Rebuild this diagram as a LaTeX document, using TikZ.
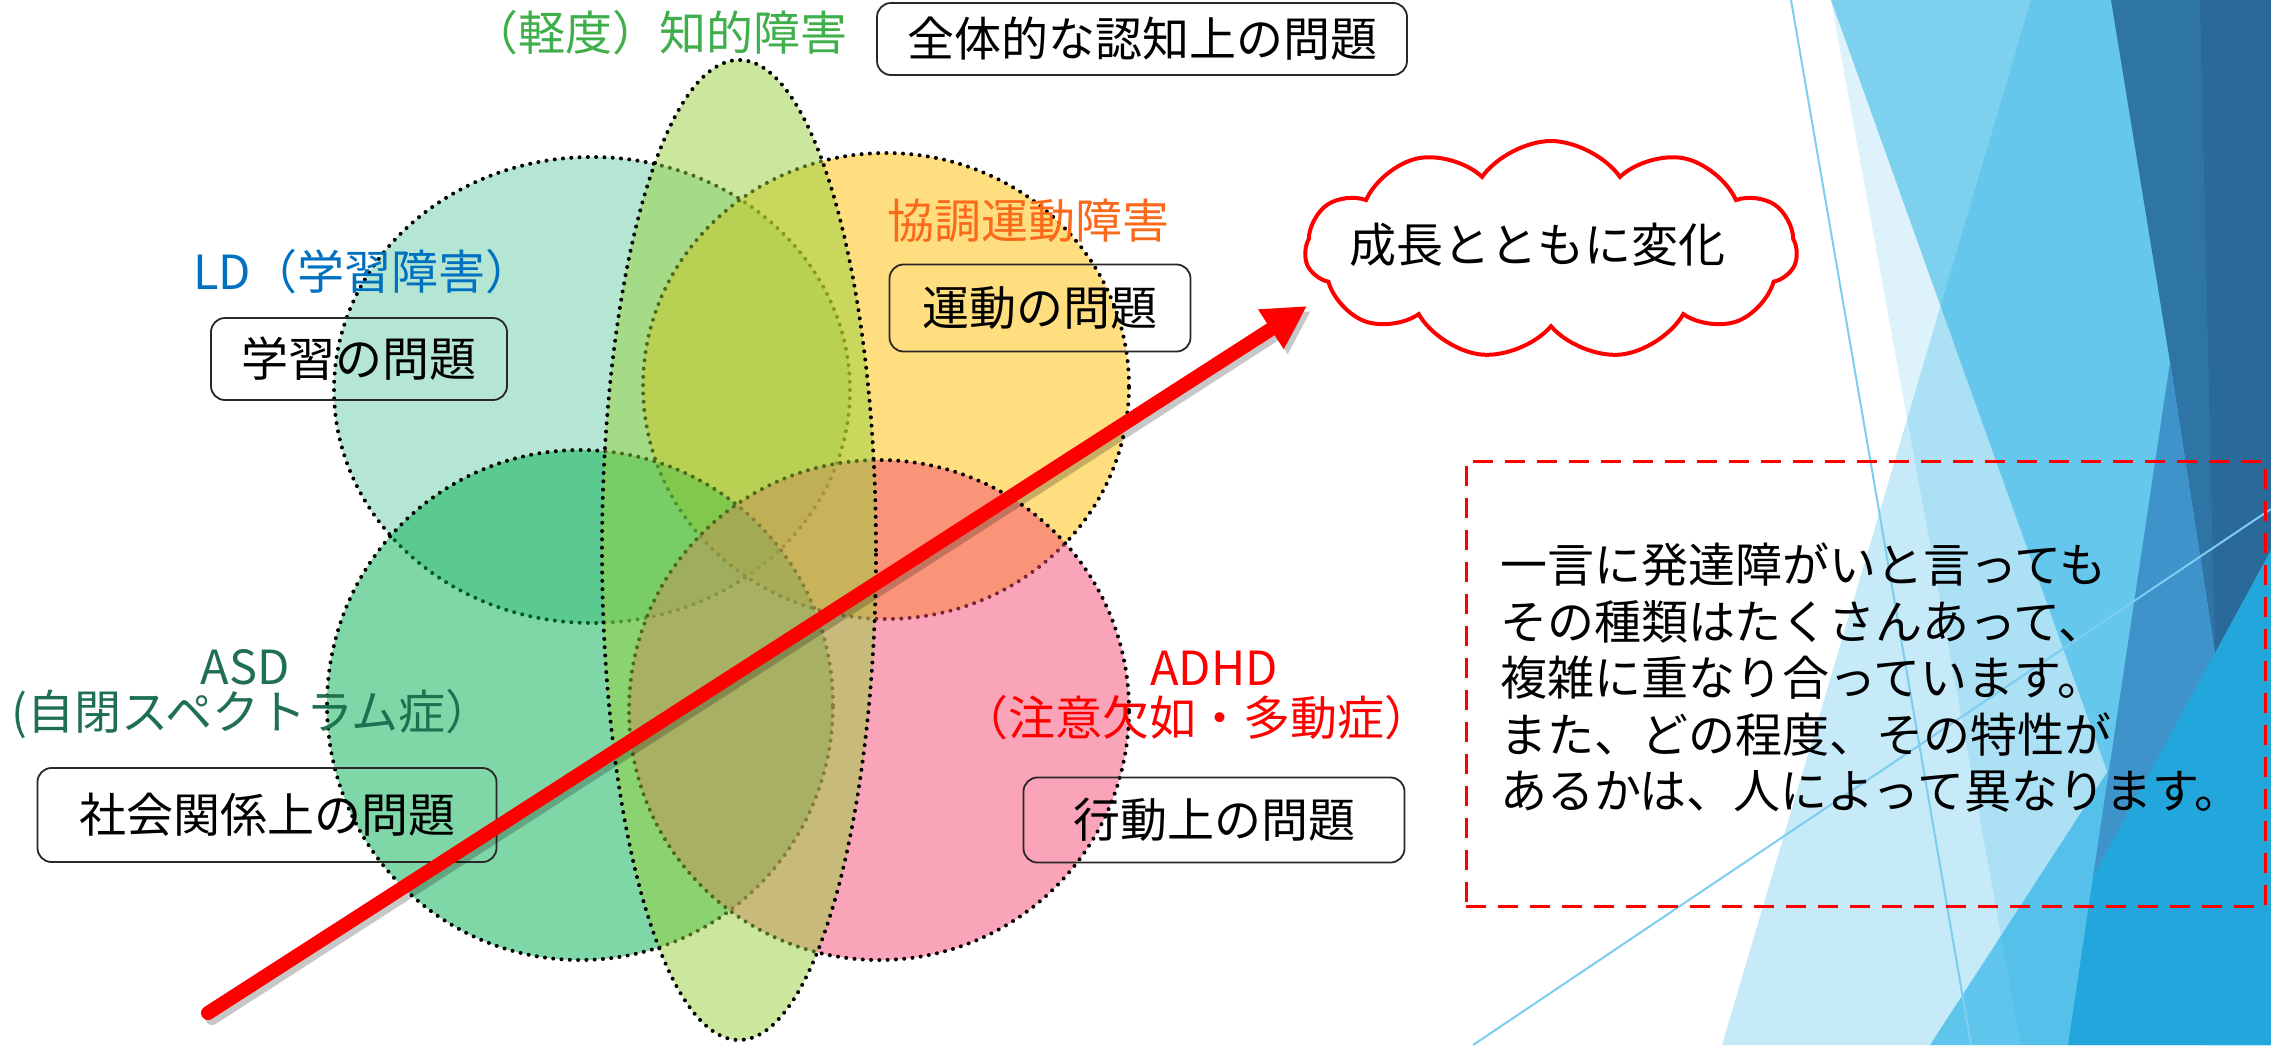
\documentclass[tikz,border=0pt]{standalone}
\usepackage{fontspec}
\setmainfont{Noto Sans CJK JP}
\usetikzlibrary{shapes.symbols,arrows.meta}

\definecolor{facetblue}{RGB}{28,173,228}
\definecolor{darkblueA}{RGB}{46,117,166}
\definecolor{darkblueB}{RGB}{42,106,155}
\definecolor{midblue}{RGB}{62,147,203}
\definecolor{brightblue}{RGB}{34,166,219}
\definecolor{thinline}{RGB}{125,205,238}
\definecolor{ldfill}{RGB}{109,205,169}
\definecolor{asdfill}{RGB}{0,176,80}
\definecolor{dcdfill}{RGB}{255,190,0}
\definecolor{adhdfill}{RGB}{247,75,117}
\definecolor{idfill}{RGB}{151,209,61}
\definecolor{idtext}{RGB}{63,175,76}
\definecolor{ldtext}{RGB}{0,112,192}
\definecolor{dcdtext}{RGB}{250,106,26}
\definecolor{asdtext}{RGB}{31,112,80}
\definecolor{boxline}{RGB}{40,40,40}

\begin{document}
\begin{tikzpicture}[x=1pt,y=-1pt,
  venn/.style={fill opacity=0.5, draw=black, line width=4pt, dash pattern=on 0pt off 8.3pt, line cap=round},
  bgshape/.style={fill=facetblue, draw=none},
  lbl/.style={font=\fontsize{47pt}{56pt}\selectfont, inner sep=0pt},
  probbox/.style={draw=boxline, line width=1.8pt, rounded corners=14pt, font=\fontsize{47pt}{56pt}\selectfont, inner sep=0pt, text=black},
  cloudshape/.style={cloud, cloud puffs=11, cloud puff arc=110, cloud ignores aspect, draw=red, line width=4pt, fill=white, inner sep=0pt},
  notebox/.style={draw=red, line width=3pt, dash pattern=on 20pt off 12pt, inner sep=0pt},
  bigarrow/.style={line width=14pt, line cap=round, -{Triangle[length=43pt,width=44pt]}}
]
% canvas
\useasboundingbox (0,0) rectangle (2271,1045);
\fill[white] (0,0) rectangle (2271,1045);

% background facets
\path[bgshape, fill opacity=0.25] (1722,1045) -- (2031,0) -- (2271,0) -- (2271,1045) -- cycle;
\path[bgshape, fill opacity=0.15] (1831,0) -- (2021,1045) -- (2271,1045) -- (2271,0) -- cycle;
\path[bgshape, fill opacity=0.49] (1831,0) -- (2205,1045) -- (2271,1045) -- (2271,0) -- cycle;
\path[bgshape, fill opacity=0.6] (1930,1045) -- (2271,520) -- (2271,1045) -- cycle;
\fill[darkblueA] (2111,0) -- (2271,0) -- (2271,550) -- (2215,653) -- (2170,362) -- cycle;
\fill[darkblueB] (2200,0) -- (2271,0) -- (2271,550) -- (2215,653) -- cycle;
\fill[midblue] (2170,362) -- (2215,653) -- (2093,877) -- cycle;
\fill[brightblue] (2093,877) -- (2215,653) -- (2271,550) -- (2271,1045) -- (2068,1045) -- cycle;
\draw[thinline, line width=2pt] (1791,0) -- (1971,1045);
\draw[thinline, line width=2pt] (1473,1045) -- (2271,509);

% Venn shapes
\path[venn, fill=ldfill]   (592,390) ellipse [x radius=258pt, y radius=233pt];
\path[venn, fill=dcdfill]  (886,386) ellipse [x radius=243pt, y radius=233pt];
\path[venn, fill=asdfill]  (580,705) ellipse [x radius=253pt, y radius=255pt];
\path[venn, fill=adhdfill] (879,710) ellipse [x radius=250pt, y radius=250pt];
\path[venn, fill=idfill]   (739,550) ellipse [x radius=137pt, y radius=490pt];

% labels and boxes
\node[lbl, text=idtext] (idlabel) at (659,33) {（軽度）知的障害};
\node[probbox, minimum width=530pt, minimum height=72pt] (idbox) at (1142,39) {全体的な認知上の問題};
\node[lbl, text=ldtext] (ldlabel) at (363,272) {LD（学習障害）};
\node[probbox, minimum width=296pt, minimum height=82pt] (ldbox) at (359,359) {学習の問題};
\node[lbl, text=dcdtext] (dcdlabel) at (1028,221) {協調運動障害};
\node[probbox, minimum width=301pt, minimum height=87pt] (dcdbox) at (1040,308) {運動の問題};
\node[lbl, text=asdtext] (asdlabel) at (245,667) {ASD};
\node[lbl, text=asdtext] (asdlabel2) at (252,714) {(自閉スペクトラム症）};
\node[probbox, minimum width=459pt, minimum height=94pt] (asdbox) at (267,815) {社会関係上の問題};
\node[lbl, text=red] (adhdlabel) at (1214,668) {ADHD};
\node[lbl, text=red] (adhdlabel2) at (1196,718) {（注意欠如・多動症）};
\node[probbox, minimum width=381pt, minimum height=85pt] (adhdbox) at (1214,820) {行動上の問題};

% cloud
\node[cloudshape, minimum width=492pt, minimum height=218pt] (cloud) at (1551,250) {};
\node[lbl] (cloudtext) at (1537,245) {成長とともに変化};

% arrow
\coordinate (arrowstart) at (208,1013);
\coordinate (arrowtip) at (1307,306);
\draw[bigarrow, black, opacity=0.22, transform canvas={shift={(4pt,-5pt)}}] (arrowstart) -- (arrowtip);
\draw[bigarrow, red] (arrowstart) -- (arrowtip);

% note box
\node[notebox, minimum width=799pt, minimum height=445pt] (note) at (1865.5,683.5) {};
\node[lbl, anchor=west, align=left, font=\fontsize{47pt}{56.5pt}\selectfont] (notetext) at (1500,678)
  {一言に発達障がいと言っても\\その種類はたくさんあって、\\複雑に重なり合っています。\\また、どの程度、その特性が\\あるかは、人によって異なります。};
\end{tikzpicture}
\end{document}
